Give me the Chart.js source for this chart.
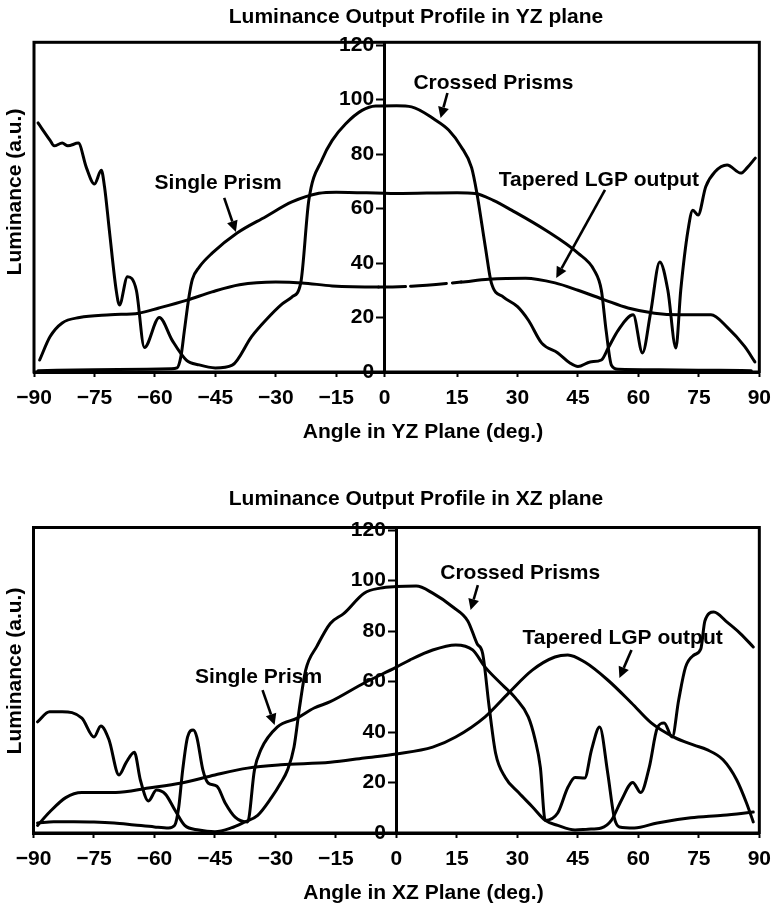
<!DOCTYPE html>
<html>
<head>
<meta charset="utf-8">
<title>Luminance Output Profiles</title>
<script src="https://cdn.jsdelivr.net/npm/chart.js@4.4.1/dist/chart.umd.min.js"></script>
<style>
  html, body { margin: 0; padding: 0; background: #fff; }
  #wrap { position: relative; width: 780px; height: 907px; overflow: hidden; background: #fff; }
  .panel { position: absolute; left: 0; width: 780px; }
  #panelYZ { top: 0; height: 455px; }
  #panelXZ { top: 455px; height: 452px; }
</style>
</head>
<body>
<div id="wrap">
  <div class="panel" id="panelYZ"><canvas id="chartYZ" width="780" height="455"></canvas></div>
  <div class="panel" id="panelXZ"><canvas id="chartXZ" width="780" height="452"></canvas></div>
</div>
<script>
// ---- axis ticks ----
const angleTicks = [-90, -75, -60, -45, -30, -15, 0, 15, 30, 45, 60, 75, 90];
const angleTickLabels = ['\u221290', '\u221275', '\u221260', '\u221245', '\u221230', '\u221215', '0', '15', '30', '45', '60', '75', '90'];
const lumTicks = [0, 20, 40, 60, 80, 100, 120];
const lumTickLabels = ['0', '20', '40', '60', '80', '100', '120'];

// ---- YZ plane: angle (deg) / luminance (a.u.) ----
const yzCrossedAngle = [-89, -86, -85, -83, -81.6, -79, -77, -75, -73.3, -72.5, -71.3, -69.6, -68.8, -66.8, -64.6, -62.6, -58.9, -55.7, -52.2, -49, -45, -40.8, -36, -32.5, -28.4, -26, -23.8, -21.8, -18.5, -16, -12.7, -8.6, -5.2, 0, 3.7, 9.6, 12.9, 16, 18.6, 19.9, 22, 23.5, 26.5, 30, 32.7, 36, 40, 43, 45, 48, 50.8, 52.5, 55, 58.7, 61, 63, 65.3, 67.3, 69.3, 70.5, 72.3, 73.5, 74.8, 76.7, 79, 82, 85.4, 87, 89];
const yzCrossedLum   = [91.4, 85, 83, 84, 83, 84, 75, 69, 74, 68, 52, 30, 24.6, 35, 30, 9, 20, 11.6, 4.4, 2.6, 1.5, 2.5, 13, 19, 25, 27.5, 32.7, 63, 78, 85, 91, 96, 97.6, 97.7, 97.3, 92.5, 88.8, 82.7, 75, 65.7, 46, 32.7, 27.5, 24, 19, 10.6, 7, 3.3, 2, 3.7, 4.4, 8.8, 15.4, 21, 7, 21.6, 40.4, 30, 8.8, 30, 52, 59.4, 57.6, 68, 73.5, 76, 73, 75, 78.5];

const yzSingleAngle = [-89, -75, -62, -56, -54.5, -53.5, -52.7, -51.5, -50.7, -49, -45.8, -39.6, -32.5, -26, -19.3, -15, 0, 15, 19.5, 24, 28.5, 37, 45, 49, 50.8, 52, 53.3, 55, 65, 80, 88];
const yzSingleLum   = [0.5, 0.8, 1, 1.2, 1.5, 6, 15, 28, 34, 38.5, 43.6, 51, 57, 62.4, 65.6, 66, 65.5, 65.8, 65.5, 63, 59.4, 52, 43.6, 37.4, 30, 15, 2.5, 1, 0.8, 0.6, 0.5];

const yzTaperedAngle = [-88.6, -86, -83, -78.7, -71, -64, -59, -52, -45.8, -39, -30, -23.5, -16, -4.5, 3.7, 16, 22.8, 32, 39.3, 45, 51.7, 57.4, 64, 70, 78, 82, 86.4, 88.9];
const yzTaperedLum   = [4.4, 13, 18, 20, 21, 21.6, 23.5, 26.4, 29.4, 32, 33, 32.7, 31.6, 31.2, 31.5, 33, 34, 34.4, 32.7, 30, 26.4, 23.5, 21.6, 21, 21, 16.5, 9.3, 3.7];

// ---- XZ plane: angle (deg) / luminance (a.u.) ----
const xzCrossedAngle = [-89, -86, -82.9, -78, -75, -73.3, -71.3, -68.8, -67, -65, -63.5, -61.5, -59.5, -57.3, -54.9, -52.5, -49, -45, -41, -37.6, -34.4, -31, -28.7, -27, -25.4, -24, -22.5, -19.7, -16.4, -13, -8, -4, 0, 4.9, 9, 14, 17.7, 20, 21.4, 23, 24.6, 27, 30.3, 33.7, 36.9, 40, 44.3, 47.5, 50.8, 53.3, 55.8, 58.6, 60.6, 62.7, 64.7, 66.4, 68.4, 70, 71.7, 73.8, 75.5, 76.5, 78.7, 82, 85.3, 88.5];
const xzCrossedLum   = [44, 48, 48, 45.5, 38, 42.4, 37, 23, 28, 32, 21, 12.7, 17, 15.4, 9, 3, 1.2, 0.5, 2, 4.4, 7, 14, 19.8, 25, 34, 50, 64.5, 74, 83, 87, 95, 97, 97.6, 97.8, 95, 89.5, 84, 75, 71, 50, 31.6, 22, 16, 10.4, 5, 3, 1.2, 1.5, 2, 5, 13, 20, 16, 26, 41.6, 43.6, 38, 52.7, 65.7, 70.5, 73, 84, 87.5, 83.5, 79, 73.7];

const xzSingleAngle = [-89, -85, -80, -75, -70, -65, -60, -56.5, -55, -54, -53, -51.8, -50.4, -49.5, -48, -46.7, -44.5, -42.5, -40, -36.9, -35.2, -33.6, -29.5, -24.6, -20.4, -16.4, -8, 0, 3.3, 9, 14.7, 18.9, 22, 26.3, 29.5, 32.7, 34.4, 35.7, 36.9, 40, 42.5, 44.3, 46.7, 48.4, 50.4, 52.4, 54, 55.3, 59, 64.7, 73, 81, 88.5];
const xzSingleLum   = [4, 4.5, 4.5, 4.4, 4, 3.2, 2.4, 2, 3, 10, 25, 38, 40.8, 38, 25, 19.8, 18.5, 12, 6.3, 4.4, 25, 33, 42, 45.5, 49.5, 52, 59.4, 65.7, 68.5, 72.5, 74.5, 72.5, 65.7, 58.6, 53.5, 46, 37, 26, 5, 7.9, 18, 22, 21.8, 33, 42, 23.8, 6.3, 2.4, 2, 4, 6, 7, 8.3];

const xzTaperedAngle = [-89, -86, -82, -78, -69.6, -61.5, -53.3, -45, -36.9, -28.7, -16.4, -8, 0, 9, 14.7, 22, 27.8, 33.7, 39.3, 42.5, 46.7, 52.4, 58.3, 63.2, 68.8, 73.8, 77, 81, 84.4, 86.8, 88.5];
const xzTaperedLum   = [3, 8.3, 14, 16, 16, 17.8, 19.8, 23, 25.7, 27, 28, 29.7, 31.3, 34, 38, 46, 55.4, 64.5, 69.7, 70.5, 67.7, 60.6, 51.5, 43.6, 38, 34.8, 33, 29, 21, 12, 4.4];

// ---- labels with arrows (data coordinates) ----
const yzNotes = [
  { text: 'Crossed Prisms',     at: [24.0, 106],   from: [12.6, 102.4], to: [10.9, 93.2] },
  { text: 'Single Prism',       at: [-44.3, 69.4], from: [-42.8, 63.9], to: [-39.9, 51.4] },
  { text: 'Tapered LGP output', at: [50.2, 70.5],  from: [51.7, 66.8],  to: [39.6, 34.5] }
];
const xzNotes = [
  { text: 'Crossed Prisms',     at: [30.7, 103],   from: [20.2, 98.2],  to: [18.4, 88.3] },
  { text: 'Single Prism',       at: [-34.2, 61.8], from: [-33.2, 56.6], to: [-30.2, 42.8] },
  { text: 'Tapered LGP output', at: [56.1, 77.2],  from: [58.3, 72.5],  to: [55.3, 61.4] }
];

const FONT = '"Liberation Sans", Arial, Helvetica, sans-serif';
Chart.defaults.font.family = FONT;
Chart.defaults.font.weight = 'bold';
Chart.defaults.color = '#000';

function toPoints(angles, lum) {
  return angles.map((a, i) => ({ x: a, y: lum[i] }));
}

function drawArrow(ctx, x1, y1, x2, y2) {
  const ang = Math.atan2(y2 - y1, x2 - x1);
  const head = 11, half = 5.5;
  const bx = x2 - head * Math.cos(ang), by = y2 - head * Math.sin(ang);
  ctx.beginPath();
  ctx.moveTo(x1, y1);
  ctx.lineTo(bx, by);
  ctx.stroke();
  ctx.beginPath();
  ctx.moveTo(x2, y2);
  ctx.lineTo(bx + half * Math.sin(ang), by - half * Math.cos(ang));
  ctx.lineTo(bx - half * Math.sin(ang), by + half * Math.cos(ang));
  ctx.closePath();
  ctx.fill();
}

// frame around the plot, titles and arrow labels
const framePlugin = {
  id: 'frameAndNotes',
  afterDatasetsDraw(chart, args, opts) {
    const { ctx, chartArea: a, scales: { x, y } } = chart;
    ctx.save();
    ctx.strokeStyle = '#000';
    ctx.fillStyle = '#000';
    ctx.lineWidth = 3;
    ctx.strokeRect(a.left, a.top, a.right - a.left, a.bottom - a.top);

    ctx.font = 'bold 21px ' + FONT;
    ctx.textAlign = 'center';
    ctx.textBaseline = 'middle';
    ctx.lineWidth = 2.6;
    for (const n of opts.notes) {
      ctx.fillText(n.text, x.getPixelForValue(n.at[0]), y.getPixelForValue(n.at[1]));
      drawArrow(ctx,
        x.getPixelForValue(n.from[0]), y.getPixelForValue(n.from[1]),
        x.getPixelForValue(n.to[0]), y.getPixelForValue(n.to[1]));
    }

    ctx.fillText(opts.title, opts.titlePos[0], opts.titlePos[1]);
    ctx.fillText(opts.xTitle, opts.xTitlePos[0], opts.xTitlePos[1]);
    ctx.translate(opts.yTitlePos[0], opts.yTitlePos[1]);
    ctx.rotate(-Math.PI / 2);
    ctx.fillText(opts.yTitle, 0, 0);
    ctx.restore();
  }
};

function lineSet(points, extra) {
  return Object.assign({
    data: points,
    borderColor: '#000',
    borderWidth: 3,
    pointRadius: 0,
    fill: false,
    cubicInterpolationMode: 'monotone',
    borderJoinStyle: 'round',
    borderCapStyle: 'round'
  }, extra || {});
}

function makeChart(id, p) {
  return new Chart(document.getElementById(id), {
    type: 'line',
    data: { datasets: p.datasets },
    options: {
      responsive: false,
      animation: false,
      events: [],
      layout: { padding: p.padding },
      plugins: {
        legend: { display: false },
        tooltip: { enabled: false },
        title: { display: false },
        frameAndNotes: {
          notes: p.notes,
          title: p.title, titlePos: p.titlePos,
          xTitle: p.xTitle, xTitlePos: p.xTitlePos,
          yTitle: 'Luminance (a.u.)', yTitlePos: p.yTitlePos
        }
      },
      scales: {
        x: {
          type: 'linear', min: -90, max: 90, position: 'bottom',
          afterBuildTicks: s => { s.ticks = angleTicks.map(v => ({ value: v === 0 ? p.cross : v })); },
          afterFit: s => { s.height = p.xHeight; },
          grid: { drawOnChartArea: false, drawTicks: true, tickLength: 5, tickWidth: 2, color: '#000' },
          border: { display: true, color: '#000', width: 3 },
          ticks: {
            callback: (v, i) => angleTickLabels[i],
            font: { size: 21, weight: 'bold' }, color: '#000',
            padding: 9, maxRotation: 0, autoSkip: false
          }
        },
        y: {
          type: 'linear', min: 0, max: 121, position: { x: p.cross },
          afterBuildTicks: s => { s.ticks = lumTicks.map(v => ({ value: v })); },
          afterFit: s => { s.width = 0; },
          grid: { drawOnChartArea: false, drawTicks: true, tickLength: 7, tickWidth: 2, color: '#000' },
          border: { display: true, color: '#000', width: 3 },
          ticks: {
            callback: (v, i) => lumTickLabels[i] + '\u2002',
            font: { size: 21, weight: 'bold' }, color: '#000', autoSkip: false
          }
        }
      }
    },
    plugins: [framePlugin]
  });
}

// broken stretch of the tapered YZ trace near normal incidence
const yzGap = { borderDash: c => (c.p0.parsed.x >= -5 && c.p1.parsed.x <= 17) ? [27, 5, 36, 6] : undefined };

makeChart('chartYZ', {
  cross: -3,
  xHeight: 83,
  padding: { top: 42.3, left: 34, right: 18, bottom: 0 },
  title: 'Luminance Output Profile in YZ plane', titlePos: [416, 17],
  xTitle: 'Angle in YZ Plane (deg.)', xTitlePos: [423, 432],
  yTitlePos: [15.5, 192],
  notes: yzNotes,
  datasets: [
    lineSet(toPoints(yzCrossedAngle, yzCrossedLum)),
    lineSet(toPoints(yzSingleAngle, yzSingleLum)),
    lineSet(toPoints(yzTaperedAngle, yzTaperedLum), { segment: yzGap })
  ]
});

makeChart('chartXZ', {
  cross: 0,
  xHeight: 74,
  padding: { top: 72.5, left: 33.5, right: 14, bottom: 0 },
  title: 'Luminance Output Profile in XZ plane', titlePos: [416, 44],
  xTitle: 'Angle in XZ Plane (deg.)', xTitlePos: [423.5, 438],
  yTitlePos: [15.5, 216],
  notes: xzNotes,
  datasets: [
    lineSet(toPoints(xzCrossedAngle, xzCrossedLum)),
    lineSet(toPoints(xzSingleAngle, xzSingleLum)),
    lineSet(toPoints(xzTaperedAngle, xzTaperedLum))
  ]
});
</script>
</body>
</html>
